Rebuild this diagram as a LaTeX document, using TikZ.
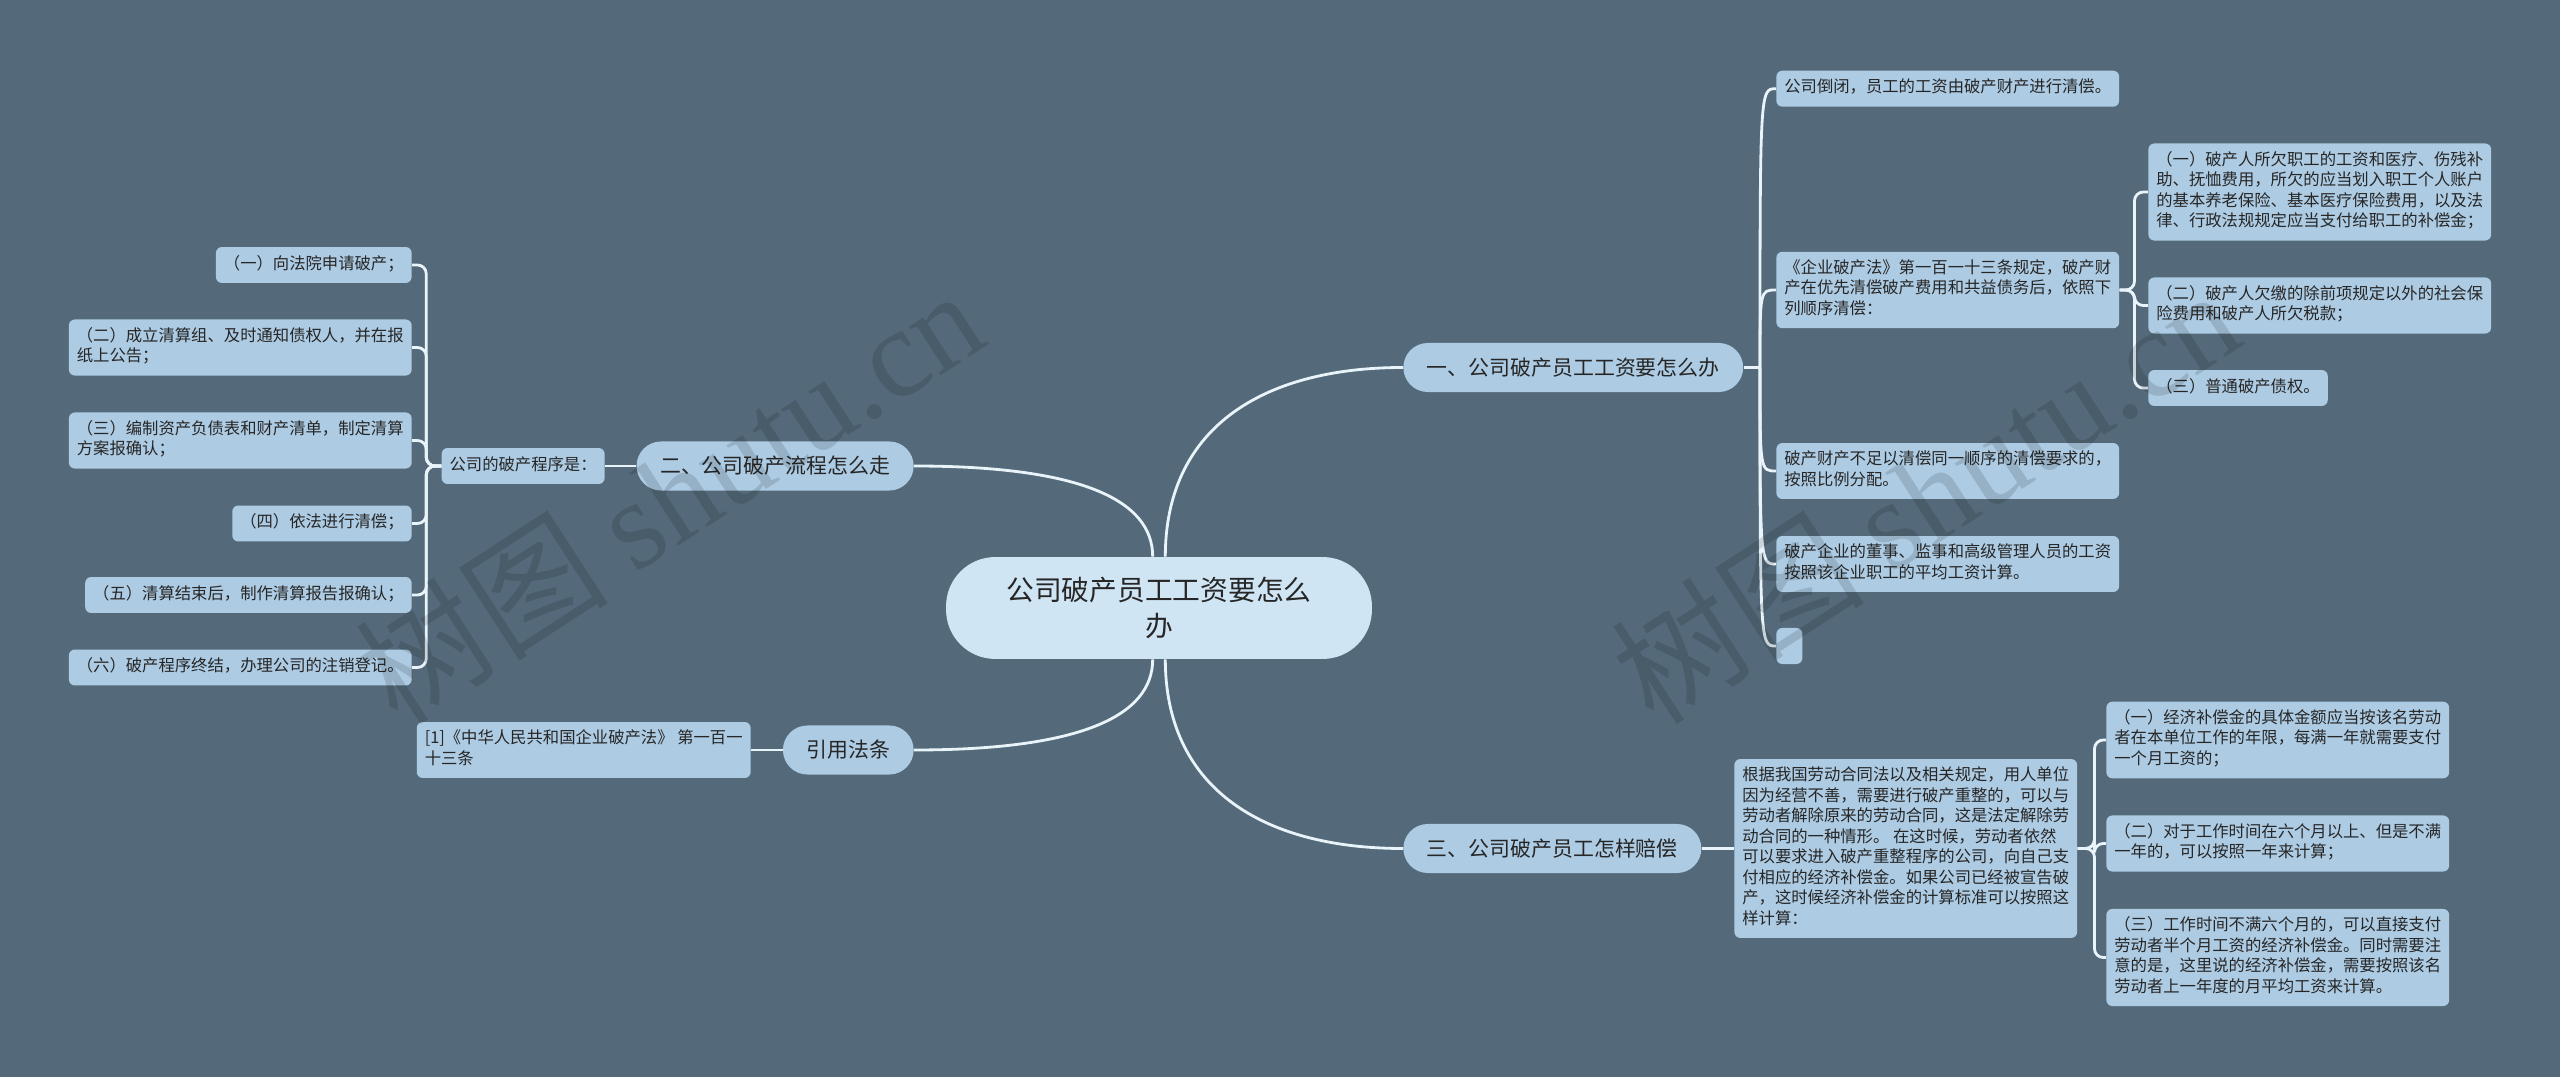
\documentclass[tikz,border=0pt]{standalone}
\usepackage{fontspec}
\setmainfont{Noto Sans CJK SC}
\newfontfamily\wmcjk{Noto Sans CJK SC}
\newfontfamily\wmlatin{Liberation Serif}
\definecolor{bgslate}{RGB}{84,106,122}
\definecolor{leafblue}{RGB}{173,203,227}
\definecolor{rootblue}{RGB}{207,229,243}
\definecolor{linewhite}{RGB}{232,243,250}
\definecolor{inkgray}{RGB}{38,38,38}

\begin{document}
\begin{tikzpicture}[x=0.02cm, y=-0.02cm,
	leaf/.style={fill=leafblue, rounded corners=3.4pt, text=inkgray,
		font=\fontsize{9.3}{11.66}\selectfont, align=left,
		inner xsep=4.55pt, inner ysep=4.4pt,
		execute at begin node=\strut, execute at end node=\strut},
	branch/.style={fill=leafblue, rounded corners=13.9pt, text=inkgray,
		font=\fontsize{11.9}{14}\selectfont, inner xsep=13.4pt, inner ysep=0pt,
		minimum height=27.9pt},
	hub/.style={fill=rootblue, rounded corners=28pt, text=inkgray,
		font=\fontsize{15.8}{20.5}\selectfont, align=center,
		minimum width=242.4pt, minimum height=58pt},
	link/.style={draw=linewhite, line width=1.6pt},
	fork/.style={link, rounded corners=5pt},
	wmark/.style={black, opacity=0.13, rotate=33, font=\fontsize{72}{72}\selectfont}]
	\useasboundingbox (0, 0) rectangle (2560, 1077);
	\fill[bgslate] (0, 0) rectangle (2560, 1077);

	\node[hub] (root) at (1159, 608) {公司破产员工工资要怎么\\办};

	% left side
	\node[branch, anchor=east] (flow) at (914, 466) {二、公司破产流程怎么走};
	\node[leaf, anchor=east] (flowhead) at (605, 466) {公司的破产程序是：};
	\node[leaf, anchor=east] (flow1) at (412, 265) {（一）向法院申请破产；};
	\node[leaf, anchor=east] (flow2) at (412, 347.5) {（二）成立清算组、及时通知债权人，并在报\\纸上公告；};
	\node[leaf, anchor=east] (flow3) at (412, 440.5) {（三）编制资产负债表和财产清单，制定清算\\方案报确认；};
	\node[leaf, anchor=east] (flow4) at (412, 523.5) {（四）依法进行清偿；};
	\node[leaf, anchor=east] (flow5) at (412, 595) {（五）清算结束后，制作清算报告报确认；};
	\node[leaf, anchor=east] (flow6) at (412, 667.5) {（六）破产程序终结，办理公司的注销登记。};
	\node[branch, anchor=east] (law) at (914, 750) {引用法条};
	\node[leaf, anchor=east] (lawref) at (751, 750) {[1]《中华人民共和国企业破产法》 第一百一\\十三条};

	% right side
	\node[branch, anchor=west] (sal) at (1403, 367.5) {一、公司破产员工工资要怎么办};
	\coordinate (salfork) at (1760, 367.5);
	\node[leaf, anchor=west] (sal1) at (1776, 88.7) {公司倒闭，员工的工资由破产财产进行清偿。};
	\node[leaf, anchor=west] (sal2) at (1776, 290) {《企业破产法》第一百一十三条规定，破产财\\产在优先清偿破产费用和共益债务后，依照下\\列顺序清偿：};
	\node[leaf, anchor=west] (sal3) at (1776, 471) {破产财产不足以清偿同一顺序的清偿要求的，\\按照比例分配。};
	\node[leaf, anchor=west] (sal4) at (1776, 564) {破产企业的董事、监事和高级管理人员的工资\\按照该企业职工的平均工资计算。};
	\node[leaf, anchor=west, minimum width=14.8pt, minimum height=20.5pt] (sal5) at (1776, 646) {};
	\node[leaf, anchor=west] (ord1) at (2148, 192) {（一）破产人所欠职工的工资和医疗、伤残补\\助、抚恤费用，所欠的应当划入职工个人账户\\的基本养老保险、基本医疗保险费用，以及法\\律、行政法规规定应当支付给职工的补偿金；};
	\node[leaf, anchor=west] (ord2) at (2148, 305.5) {（二）破产人欠缴的除前项规定以外的社会保\\险费用和破产人所欠税款；};
	\node[leaf, anchor=west] (ord3) at (2148, 388) {（三）普通破产债权。};

	\node[branch, anchor=west] (comp) at (1403, 848.5) {三、公司破产员工怎样赔偿};
	\node[leaf, anchor=west] (comphead) at (1734, 848.5) {根据我国劳动合同法以及相关规定，用人单位\\因为经营不善，需要进行破产重整的，可以与\\劳动者解除原来的劳动合同，这是法定解除劳\\动合同的一种情形。 在这时候，劳动者依然\\可以要求进入破产重整程序的公司，向自己支\\付相应的经济补偿金。如果公司已经被宣告破\\产，这时候经济补偿金的计算标准可以按照这\\样计算：};
	\node[leaf, anchor=west] (comp1) at (2106, 740) {（一）经济补偿金的具体金额应当按该名劳动\\者在本单位工作的年限，每满一年就需要支付\\一个月工资的；};
	\node[leaf, anchor=west] (comp2) at (2106, 843.5) {（二）对于工作时间在六个月以上、但是不满\\一年的，可以按照一年来计算；};
	\node[leaf, anchor=west] (comp3) at (2106, 957.5) {（三）工作时间不满六个月的，可以直接支付\\劳动者半个月工资的经济补偿金。同时需要注\\意的是，这里说的经济补偿金，需要按照该名\\劳动者上一年度的月平均工资来计算。};

	% connectors
	\draw[link] (root.83) .. controls +(0, -127) and +(-143, 0) .. (sal.west);
	\draw[link] (root.97) .. controls +(0, -57) and +(166, 0) .. (flow.east);
	\draw[link] (root.263) .. controls +(0, 57) and +(166, 0) .. (law.east);
	\draw[link] (root.277) .. controls +(0, 127) and +(-143, 0) .. (comp.west);

	\draw[link] (flow.west) -- (flowhead.east);
	\foreach \i in {1,...,6}
		\draw[fork] (flowhead.west) -- ++(-15, 0) |- (flow\i.east);
	\draw[link] (law.west) -- (lawref.east);

	\draw[link] (sal.east) -- (salfork);
	\foreach \i in {1,...,5}
		\draw[link] (salfork) .. controls (salfork |- sal\i.west) .. (sal\i.west);
	\foreach \i in {1,2,3}
		\draw[fork] (sal2.east) -- ++(15, 0) |- (ord\i.west);

	\draw[link] (comp.east) -- (comphead.west);
	\foreach \i in {1,2,3}
		\draw[fork] (comphead.east) -- ++(17, 0) |- (comp\i.west);

	% watermark
	\node[wmark] (wm1) at (669, 495) {{\wmcjk 树图} {\wmlatin shutu.cn}};
	\node[wmark] (wm2) at (1925, 495) {{\wmcjk 树图} {\wmlatin shutu.cn}};
\end{tikzpicture}
\end{document}
